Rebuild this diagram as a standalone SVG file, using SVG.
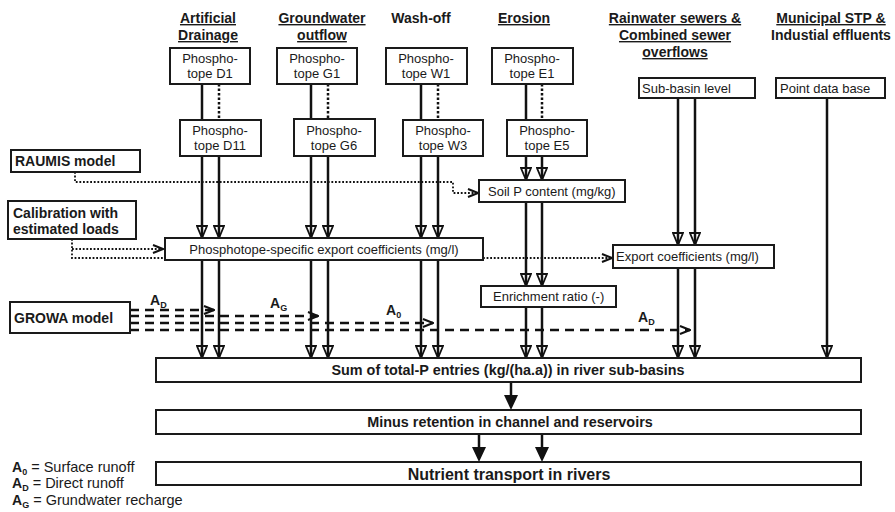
<svg xmlns="http://www.w3.org/2000/svg" width="895" height="512" viewBox="0 0 895 512">
<style>
text{font-family:"Liberation Sans",Arial,sans-serif;fill:#1a1a1a}
.hd{font-size:14px;font-weight:bold;text-anchor:middle}
.u{text-decoration:underline}
.bx{fill:#fff;stroke:#1a1a1a;stroke-width:2}
.t{font-size:13px}
.c{text-anchor:middle}
.b{font-weight:bold;font-size:14px}
.sub{font-weight:bold;font-size:9px}
.ln{stroke:#111;stroke-width:2.5;fill:none}
.dt{stroke:#111;stroke-width:2.5;fill:none;stroke-dasharray:2.5 2}
.fd{stroke:#111;stroke-width:1.8;fill:none;stroke-dasharray:1.8 1.8}
.ds{stroke:#111;stroke-width:2.5;fill:none;stroke-dasharray:9 6}
</style>
<defs>
<marker id="ah" markerUnits="userSpaceOnUse" markerWidth="14" markerHeight="12" viewBox="0 0 14 12" refX="13" refY="6" orient="auto"><path d="M1,1 L13,6 L1,11 Z" fill="none" stroke="#111" stroke-width="1.8"/></marker>
<marker id="ch" markerUnits="userSpaceOnUse" markerWidth="12" markerHeight="10" viewBox="0 0 12 10" refX="11" refY="5" orient="auto"><path d="M1,1 L11,5 L1,9" fill="none" stroke="#111" stroke-width="2"/></marker>
<marker id="big" markerUnits="userSpaceOnUse" markerWidth="16" markerHeight="16" viewBox="0 0 16 16" refX="4" refY="8" orient="auto"><path d="M0,1 L15,8 L0,15 Z" fill="#111"/></marker>
</defs>

<g id="headers">
<text class="hd u" x="208" y="23">Artificial</text>
<text class="hd u" x="208" y="40">Drainage</text>
<text class="hd u" x="322" y="23">Groundwater</text>
<text class="hd u" x="322" y="40">outflow</text>
<text class="hd" x="421" y="23">Wash-off</text>
<text class="hd u" x="524" y="23">Erosion</text>
<text class="hd u" x="675" y="23">Rainwater sewers &amp;</text>
<text class="hd u" x="675" y="40">Combined sewer</text>
<text class="hd u" x="675" y="57">overflows</text>
<text class="hd u" x="831" y="23">Municipal STP &amp;</text>
<text class="hd" x="831" y="40">Industial effluents</text>
</g>

<g id="connectors">
<path class="ds" d="M130,310 H214" marker-end="url(#ch)"/>
<path class="ds" d="M130,316 H318" marker-end="url(#ch)"/>
<path class="ds" d="M130,323 H433" marker-end="url(#ch)"/>
<path class="ds" d="M130,330 H690" marker-end="url(#ch)"/>

<path class="ln" d="M202,84 V120 M311,84 V119 M421,84 V120 M526,84 V120"/>
<path class="dt" d="M219,84 V120 M328,84 V119 M438,84 V120 M542,84 V120"/>

<path class="ln" d="M202,156 V238" marker-end="url(#ah)"/>
<path class="ln" d="M219,156 V238" marker-end="url(#ah)"/>
<path class="ln" d="M311,156 V238" marker-end="url(#ah)"/>
<path class="ln" d="M328,156 V238" marker-end="url(#ah)"/>
<path class="ln" d="M421,156 V238" marker-end="url(#ah)"/>
<path class="ln" d="M438,156 V238" marker-end="url(#ah)"/>

<path class="ln" d="M526,156 V180" marker-end="url(#ah)"/>
<path class="ln" d="M542,156 V180" marker-end="url(#ah)"/>
<path class="ln" d="M526,202 V286" marker-end="url(#ah)"/>
<path class="ln" d="M542,202 V286" marker-end="url(#ah)"/>
<path class="ln" d="M526,307 V358" marker-end="url(#ah)"/>
<path class="ln" d="M542,307 V358" marker-end="url(#ah)"/>

<path class="ln" d="M202,260 V358" marker-end="url(#ah)"/>
<path class="ln" d="M219,260 V358" marker-end="url(#ah)"/>
<path class="ln" d="M311,260 V358" marker-end="url(#ah)"/>
<path class="ln" d="M328,260 V358" marker-end="url(#ah)"/>
<path class="ln" d="M421,260 V358" marker-end="url(#ah)"/>
<path class="ln" d="M438,260 V358" marker-end="url(#ah)"/>

<path class="ln" d="M678,98 V245" marker-end="url(#ah)"/>
<path class="ln" d="M695,98 V245" marker-end="url(#ah)"/>
<path class="ln" d="M678,268 V358" marker-end="url(#ah)"/>
<path class="ln" d="M695,268 V358" marker-end="url(#ah)"/>
<path class="ln" d="M827,98 V358" marker-end="url(#ah)"/>

<path class="ln" d="M511,382 V399" marker-end="url(#big)"/>
<path class="ln" d="M479,434 V451" marker-end="url(#big)"/>
<path class="ln" d="M542,434 V451" marker-end="url(#big)"/>

<path class="fd" d="M75,172 V182 H453 V193 H478" marker-end="url(#ch)"/>
<path class="fd" d="M72,239 V258 H165"/>
<path class="fd" d="M72,249 H163" marker-end="url(#ch)"/>
<path class="fd" d="M483,258 H612" marker-end="url(#ch)"/>

<text class="b" x="150" y="305">A<tspan class="sub" dy="3">D</tspan></text>
<text class="b" x="270" y="308">A<tspan class="sub" dy="3">G</tspan></text>
<text class="b" x="386" y="315">A<tspan class="sub" dy="3">0</tspan></text>
<text class="b" x="638" y="322">A<tspan class="sub" dy="3">D</tspan></text>
</g>

<g id="d1"><rect class="bx" x="170" y="48" width="80" height="36"/><text class="t c" x="210" y="63">Phospho-</text><text class="t c" x="210" y="78">tope D1</text></g>
<g id="g1"><rect class="bx" x="277" y="48" width="80" height="36"/><text class="t c" x="317" y="63">Phospho-</text><text class="t c" x="317" y="78">tope G1</text></g>
<g id="w1"><rect class="bx" x="386" y="48" width="81" height="36"/><text class="t c" x="426" y="63">Phospho-</text><text class="t c" x="426" y="78">tope W1</text></g>
<g id="e1"><rect class="bx" x="492" y="48" width="81" height="36"/><text class="t c" x="532" y="63">Phospho-</text><text class="t c" x="532" y="78">tope E1</text></g>

<g id="d11"><rect class="bx" x="180" y="120" width="81" height="36"/><text class="t c" x="220" y="135">Phospho-</text><text class="t c" x="220" y="150">tope D11</text></g>
<g id="g6"><rect class="bx" x="294" y="119" width="81" height="37"/><text class="t c" x="334" y="135">Phospho-</text><text class="t c" x="334" y="150">tope G6</text></g>
<g id="w3"><rect class="bx" x="403" y="120" width="80" height="36"/><text class="t c" x="443" y="135">Phospho-</text><text class="t c" x="443" y="150">tope W3</text></g>
<g id="e5"><rect class="bx" x="507" y="120" width="80" height="36"/><text class="t c" x="547" y="135">Phospho-</text><text class="t c" x="547" y="150">tope E5</text></g>

<g id="subbasin"><rect class="bx" x="639" y="78" width="116" height="20"/><text class="t" x="642" y="93">Sub-basin level</text></g>
<g id="pointdb"><rect class="bx" x="776" y="78" width="109" height="20"/><text class="t" x="780" y="93">Point data base</text></g>

<g id="raumis"><rect class="bx" x="11" y="150" width="129" height="22"/><text class="b" x="15" y="166">RAUMIS model</text></g>
<g id="calib"><rect class="bx" x="8" y="201" width="128" height="38"/><text class="b" x="13" y="218">Calibration with</text><text class="b" x="13" y="234">estimated loads</text></g>
<g id="growa"><rect class="bx" x="10" y="302" width="120" height="31"/><text class="b" x="14" y="323">GROWA model</text></g>

<g id="soilp"><rect class="bx" x="479" y="180" width="146" height="22"/><text class="t" x="488" y="196">Soil P content (mg/kg)</text></g>
<g id="pexport"><rect class="bx" x="165" y="238" width="318" height="22"/><text class="t c" x="324" y="254">Phosphotope-specific export coefficients (mg/l)</text></g>
<g id="export"><rect class="bx" x="613" y="245" width="161" height="23"/><text class="t" x="616" y="261">Export coefficients (mg/l)</text></g>
<g id="enrich"><rect class="bx" x="481" y="286" width="135" height="21"/><text class="t" x="493" y="301">Enrichment ratio (-)</text></g>

<g id="sum"><rect class="bx" x="156" y="358" width="705" height="24"/><text class="b c" style="font-size:14.4px" x="508" y="375">Sum of total-P entries (kg/(ha.a)) in river sub-basins</text></g>
<g id="minus"><rect class="bx" x="156" y="410" width="705" height="24"/><text class="b c" style="font-size:14.4px" x="510" y="427">Minus retention in channel and reservoirs</text></g>
<g id="nutrient"><rect class="bx" x="156" y="462" width="705" height="23"/><text class="b c" style="font-size:16px" x="509" y="480">Nutrient transport in rivers</text></g>

<g id="legend">
<text x="12" y="472"><tspan class="b">A</tspan><tspan class="sub" dy="3">0</tspan><tspan dy="-3" font-size="14.5"> = Surface runoff</tspan></text>
<text x="12" y="488"><tspan class="b">A</tspan><tspan class="sub" dy="3">D</tspan><tspan dy="-3" font-size="14.5"> = Direct runoff</tspan></text>
<text x="12" y="505"><tspan class="b">A</tspan><tspan class="sub" dy="3">G</tspan><tspan dy="-3" font-size="14.5"> = Grundwater recharge</tspan></text>
</g>
</svg>
